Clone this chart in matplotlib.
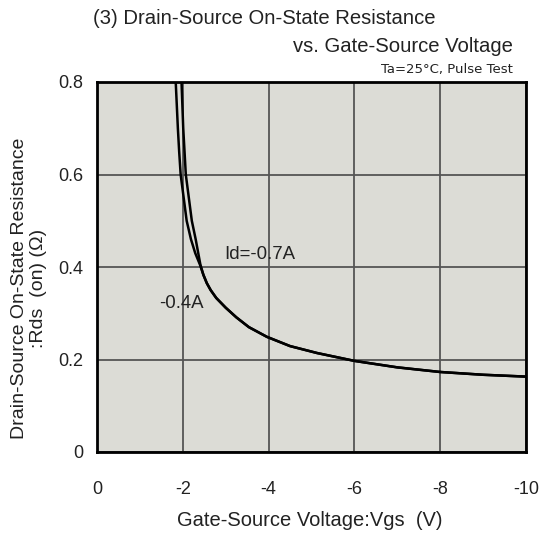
import matplotlib
matplotlib.use("Agg")
import matplotlib.pyplot as plt

plt.rcParams['font.family'] = ['Liberation Sans', 'DejaVu Sans']

# Data (Vgs in V, Rds(on) in ohm)
vgs_04 = [-1.81, -1.835, -1.885, -1.915, -1.95, -2.02, -2.09, -2.19, -2.29, -2.40, -2.48, -2.56, -2.65, -2.78, -3.00, -3.25, -3.54, -3.96, -4.50, -5.13, -6.00, -7.00, -8.00, -9.00, -10.00]
rds_04 = [0.85, 0.80, 0.70, 0.65, 0.60, 0.55, 0.50, 0.46, 0.43, 0.405, 0.383, 0.365, 0.350, 0.333, 0.312, 0.291, 0.270, 0.249, 0.229, 0.214, 0.197, 0.183, 0.173, 0.167, 0.163]
vgs_07 = [-1.95, -1.97, -2.01, -2.04, -2.07, -2.14, -2.21, -2.30, -2.36, -2.41, -2.48, -2.56, -2.65, -2.78, -3.00, -3.25, -3.54, -3.96, -4.50, -5.13, -6.00, -7.00, -8.00, -9.00, -10.00]
rds_07 = [0.85, 0.80, 0.70, 0.65, 0.60, 0.55, 0.50, 0.46, 0.43, 0.405, 0.383, 0.365, 0.350, 0.333, 0.312, 0.291, 0.270, 0.249, 0.229, 0.214, 0.197, 0.183, 0.173, 0.167, 0.163]
x_ticks = [0, -2, -4, -6, -8, -10]
x_ticklabels = ['0', '-2', '-4', '-6', '-8', '-10']
y_ticks = [0, 0.2, 0.4, 0.6, 0.8]
y_ticklabels = ['0', '0.2', '0.4', '0.6', '0.8']

fig = plt.figure(figsize=(5.39, 5.35), dpi=100)
ax = fig.add_axes([97/539, 1-452/535, (526-97)/539, (452-82)/535])
ax.set_facecolor('#dcdcd6')

for v, r in ((vgs_04, rds_04), (vgs_07, rds_07)):
    ax.plot(v, r, color='black', lw=1.8, solid_joinstyle='round',
            solid_capstyle='round')

ax.set_xlim(0, -10)
ax.set_ylim(0, 0.8)
ax.set_xticks(x_ticks)
ax.set_xticklabels(x_ticklabels)
ax.set_yticks(y_ticks)
ax.set_yticklabels(y_ticklabels)
ax.tick_params(length=0, labelsize=13, colors='#222222')
ax.tick_params(axis='y', pad=10)
ax.tick_params(axis='x', pad=21)
ax.grid(True, color='#555555', lw=1.3)
for s in ax.spines.values():
    s.set_linewidth(2)
    s.set_color('black')

ax.text(-2.96, 0.426, 'Id=-0.7A', fontsize=13.4, color='#222222', va='center')
ax.text(-1.445, 0.322, '-0.4A', fontsize=13.4, color='#222222', va='center')

fig.text(93/539, 1-18/535, '(3) Drain-Source On-State Resistance', fontsize=14.6,
         ha='left', va='center', color='#222222')
fig.text(513/539, 1-47/535, 'vs. Gate-Source Voltage', fontsize=14.6,
         ha='right', va='center', color='#222222')
fig.text(513/539, 1-70/535, 'Ta=25\u00b0C, Pulse Test', fontsize=9.5,
         ha='right', va='center', color='#222222', family='DejaVu Sans')

fig.text(310/539, 1-521/535, 'Gate-Source Voltage:Vgs  (V)', fontsize=14.5,
         ha='center', va='center', color='#222222')
fig.text(29/539, 1-288/535, 'Drain-Source On-State Resistance\n:Rds  (on) (\u03a9)',
         fontsize=14, rotation=90, ha='center', va='center', color='#222222',
         multialignment='center', linespacing=1.15)

fig.savefig('out.png', dpi=100)
